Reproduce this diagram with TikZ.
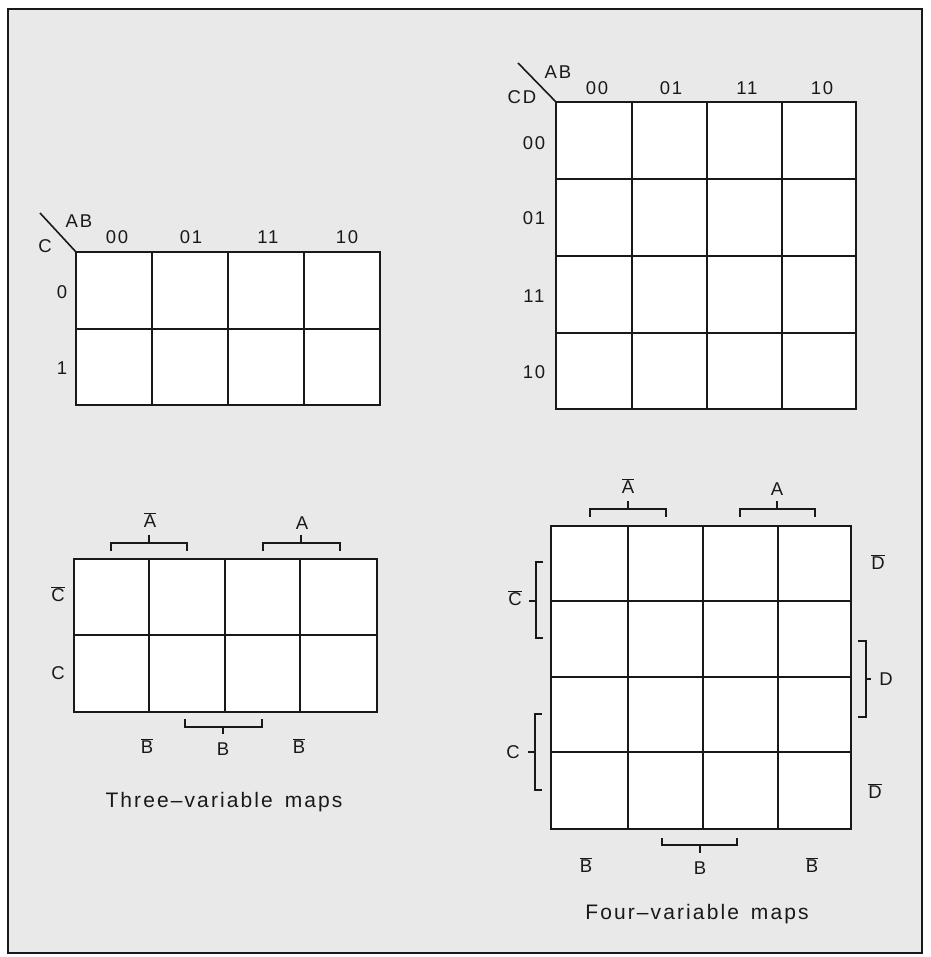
\documentclass[tikz,border=0pt]{standalone}
\usepackage{fontspec}
\setmainfont{Liberation Sans}[LetterSpace=10]
\definecolor{paper}{RGB}{233,233,233}
\definecolor{ink}{RGB}{25,25,25}
\newcommand\ovb[1]{\ensuremath{\overline{\mbox{#1}}}}
\tikzset{
  grid/.style={draw=ink, line width=1.8pt, fill=white},
  gline/.style={draw=ink, line width=1.8pt},
  brk/.style={draw=ink, line width=1.3pt},
  lab/.style={text=ink, inner sep=0pt, font=\fontsize{18.5}{21}\selectfont},
  capt/.style={text=ink, inner sep=0pt, font=\fontsize{21}{24}\selectfont},
}
\begin{document}
\begin{tikzpicture}[x=1pt,y=-1pt]
\useasboundingbox (0,0) rectangle (930,957);
\fill[white] (0,0) rectangle (930,957);
\draw[draw=ink, line width=2.6pt, fill=paper] (8,9) rectangle (922,953);

% ---------- Three-variable map (top) ----------
\draw[grid] (76,252) rectangle (380,405);
\foreach \x in {152,228,304} \draw[gline] (\x,252) -- (\x,405);
\draw[gline] (76,329) -- (380,329);
\coordinate (d1a) at (40,213);
\coordinate (d1b) at (76,252);
\draw[brk, line width=1.6pt] (d1a) -- (d1b);
\node[lab] (t1AB) at (79,221) {AB};
\node[lab] (t1C) at (45,246) {C};
\node[lab] (t1c00) at (117,237) {00};
\node[lab] (t1c01) at (191,237) {01};
\node[lab] (t1c11) at (268,237) {11};
\node[lab] (t1c10) at (347,237) {10};
\node[lab] (t1r0) at (62,292) {0};
\node[lab] (t1r1) at (62,368) {1};

% ---------- Three-variable map (bottom) ----------
\draw[grid] (74,559) rectangle (377,712);
\foreach \x in {149,225,300} \draw[gline] (\x,559) -- (\x,712);
\draw[gline] (74,635) -- (377,635);
\node[lab] (t2nA) at (150,520) {\ovb{A}};
\node[lab] (t2A) at (302,523) {A};
\draw[brk] (111,551) -- (111,543) -- (187,543) -- (187,551);
\draw[brk] (149,543) -- (149,535);
\draw[brk] (263,551) -- (263,543) -- (340,543) -- (340,551);
\draw[brk] (301,543) -- (301,535);
\node[lab] (t2nC) at (58,594) {\ovb{C}};
\node[lab] (t2C) at (58,673) {C};
\draw[brk] (185,719) -- (185,727) -- (262,727) -- (262,719);
\draw[brk] (223,727) -- (223,734);
\node[lab] (t2nB1) at (147,746) {\ovb{B}};
\node[lab] (t2B) at (223,749) {B};
\node[lab] (t2nB2) at (299,746) {\ovb{B}};
\node[capt] (cap3) at (224,802) {Three--variable\hspace{4pt} maps};

% ---------- Four-variable map (top) ----------
\draw[grid] (556,102) rectangle (856,409);
\foreach \x in {632,707,782} \draw[gline] (\x,102) -- (\x,409);
\foreach \y in {179,256,333} \draw[gline] (556,\y) -- (856,\y);
\coordinate (d3a) at (518,63);
\coordinate (d3b) at (556,102);
\draw[brk, line width=1.6pt] (d3a) -- (d3b);
\node[lab] (f1AB) at (558,72) {AB};
\node[lab] (f1CD) at (522,97) {CD};
\node[lab] (f1c00) at (597,88) {00};
\node[lab] (f1c01) at (671,88) {01};
\node[lab] (f1c11) at (747,88) {11};
\node[lab] (f1c10) at (822,88) {10};
\node[lab] (f1r00) at (534,143) {00};
\node[lab] (f1r01) at (534,218) {01};
\node[lab] (f1r11) at (534,296) {11};
\node[lab] (f1r10) at (534,372) {10};

% ---------- Four-variable map (bottom) ----------
\draw[grid] (551,526) rectangle (851,829);
\foreach \x in {628,703,778} \draw[gline] (\x,526) -- (\x,829);
\foreach \y in {601,677,752} \draw[gline] (551,\y) -- (851,\y);
\node[lab] (f2nA) at (628,486) {\ovb{A}};
\node[lab] (f2A) at (777,489) {A};
\draw[brk] (590,517) -- (590,509) -- (666,509) -- (666,517);
\draw[brk] (628,509) -- (628,501);
\draw[brk] (740,517) -- (740,509) -- (815,509) -- (815,517);
\draw[brk] (777,509) -- (777,501);
% left brackets
\draw[brk] (543,562) -- (536,562) -- (536,638) -- (543,638);
\draw[brk] (536,601) -- (529,601);
\node[lab] (f2nC) at (515,598) {\ovb{C}};
\draw[brk] (542,714) -- (535,714) -- (535,790) -- (542,790);
\draw[brk] (535,752) -- (528,752);
\node[lab] (f2C) at (513,752) {C};
% right bracket
\draw[brk] (858,641) -- (866,641) -- (866,717) -- (858,717);
\draw[brk] (866,679) -- (871,679);
\node[lab] (f2D) at (886,679) {D};
\node[lab] (f2nD1) at (878,562) {\ovb{D}};
\node[lab] (f2nD2) at (875,791) {\ovb{D}};
% bottom bracket
\draw[brk] (662,838) -- (662,845) -- (737,845) -- (737,838);
\draw[brk] (700,845) -- (700,853);
\node[lab] (f2nB1) at (586,865) {\ovb{B}};
\node[lab] (f2B) at (700,868) {B};
\node[lab] (f2nB2) at (812,865) {\ovb{B}};
\node[capt] (cap4) at (697,914) {Four--variable\hspace{4pt} maps};
\end{tikzpicture}
\end{document}
